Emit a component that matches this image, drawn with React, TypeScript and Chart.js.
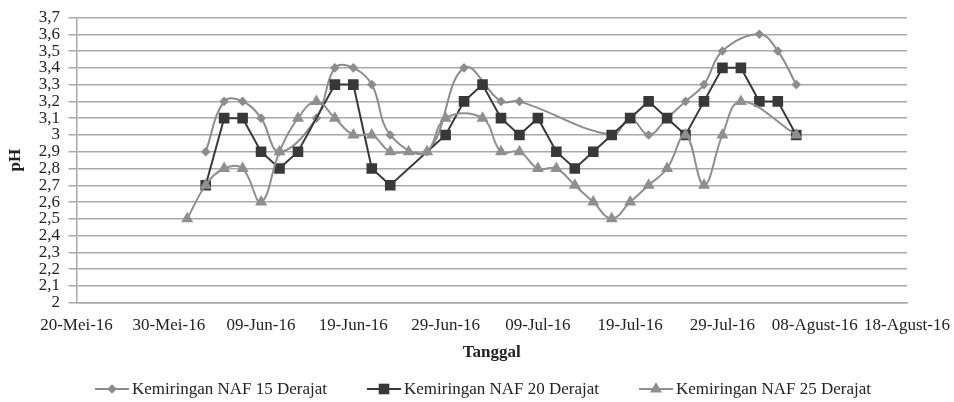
import React, { useEffect, useRef } from 'react';
import { Chart, registerables } from 'chart.js';

Chart.register(...registerables);

// ---- data ----
const seriesNames = [
  'Kemiringan NAF 15 Derajat',
  'Kemiringan NAF 20 Derajat',
  'Kemiringan NAF 25 Derajat',
];

const dates15 = [
  '2016-06-03', '2016-06-05', '2016-06-07', '2016-06-09', '2016-06-11', '2016-06-15',
  '2016-06-17', '2016-06-19', '2016-06-21', '2016-06-23', '2016-06-27', '2016-07-01',
  '2016-07-05', '2016-07-07', '2016-07-17', '2016-07-19', '2016-07-21', '2016-07-23',
  '2016-07-25', '2016-07-27', '2016-07-29', '2016-08-02', '2016-08-04', '2016-08-06',
];
const ph15 = [
  2.9, 3.2, 3.2, 3.1, 2.9, 3.1,
  3.4, 3.4, 3.3, 3.0, 2.9, 3.4,
  3.2, 3.2, 3.0, 3.1, 3.0, 3.1,
  3.2, 3.3, 3.5, 3.6, 3.5, 3.3,
];

const dates20 = [
  '2016-06-03', '2016-06-05', '2016-06-07', '2016-06-09', '2016-06-11', '2016-06-13',
  '2016-06-17', '2016-06-19', '2016-06-21', '2016-06-23', '2016-06-29', '2016-07-01',
  '2016-07-03', '2016-07-05', '2016-07-07', '2016-07-09', '2016-07-11', '2016-07-13',
  '2016-07-15', '2016-07-17', '2016-07-19', '2016-07-21', '2016-07-23', '2016-07-25',
  '2016-07-27', '2016-07-29', '2016-07-31', '2016-08-02', '2016-08-04', '2016-08-06',
];
const ph20 = [
  2.7, 3.1, 3.1, 2.9, 2.8, 2.9,
  3.3, 3.3, 2.8, 2.7, 3.0, 3.2,
  3.3, 3.1, 3.0, 3.1, 2.9, 2.8,
  2.9, 3.0, 3.1, 3.2, 3.1, 3.0,
  3.2, 3.4, 3.4, 3.2, 3.2, 3.0,
];

const dates25 = [
  '2016-06-01', '2016-06-03', '2016-06-05', '2016-06-07', '2016-06-09', '2016-06-11',
  '2016-06-13', '2016-06-15', '2016-06-17', '2016-06-19', '2016-06-21', '2016-06-23',
  '2016-06-25', '2016-06-27', '2016-06-29', '2016-07-03', '2016-07-05', '2016-07-07',
  '2016-07-09', '2016-07-11', '2016-07-13', '2016-07-15', '2016-07-17', '2016-07-19',
  '2016-07-21', '2016-07-23', '2016-07-25', '2016-07-27', '2016-07-29', '2016-07-31',
  '2016-08-06',
];
const ph25 = [
  2.5, 2.7, 2.8, 2.8, 2.6, 2.9,
  3.1, 3.2, 3.1, 3.0, 3.0, 2.9,
  2.9, 2.9, 3.1, 3.1, 2.9, 2.9,
  2.8, 2.8, 2.7, 2.6, 2.5, 2.6,
  2.7, 2.8, 3.0, 2.7, 3.0, 3.2,
  3.0,
];

const xStartDate = '2016-05-20';
const xTickLabels = [
  '20-Mei-16', '30-Mei-16', '09-Jun-16', '19-Jun-16', '29-Jun-16',
  '09-Jul-16', '19-Jul-16', '29-Jul-16', '08-Agust-16', '18-Agust-16',
];
const xStepDays = 10;

const yMin = 2;
const yMax = 3.7;
const yStep = 0.1;
const yTickLabels = [
  '2', '2,1', '2,2', '2,3', '2,4', '2,5', '2,6', '2,7', '2,8',
  '2,9', '3', '3,1', '3,2', '3,3', '3,4', '3,5', '3,6', '3,7',
];

// ---- helpers ----
const dayOf = (s: string) => {
  const [y, m, d] = s.split('-').map(Number);
  const [y0, m0, d0] = xStartDate.split('-').map(Number);
  return Math.round((Date.UTC(y, m - 1, d) - Date.UTC(y0, m0 - 1, d0)) / 86400000);
};
const toPoints = (dates: string[], vals: number[]) =>
  dates.map((d, i) => ({ x: dayOf(d), y: vals[i] }));

const FONT = "'Liberation Serif', 'Times New Roman', serif";
const TEXT = '#222222';
const GRID = '#a9a9a9';

const COLORS = ['#8c8c8c', '#383838', '#8f8f8f'];
const STYLES = ['rectRot', 'rect', 'triangle'];
const RADII = [4.8, 7.5, 7];

function drawMarker(ctx: CanvasRenderingContext2D, style: string, x: number, y: number, r: number) {
  ctx.beginPath();
  if (style === 'rectRot') {
    ctx.moveTo(x - r, y);
    ctx.lineTo(x, y - r);
    ctx.lineTo(x + r, y);
    ctx.lineTo(x, y + r);
  } else if (style === 'rect') {
    const s = Math.SQRT1_2 * r;
    ctx.rect(x - s, y - s, 2 * s, 2 * s);
  } else {
    const a = (2 * Math.PI) / 3;
    ctx.moveTo(x, y - r);
    ctx.lineTo(x + Math.sin(a) * r, y - Math.cos(a) * r);
    ctx.lineTo(x + Math.sin(2 * a) * r, y - Math.cos(2 * a) * r);
  }
  ctx.closePath();
  ctx.fill();
}

const legendPlugin = {
  id: 'bottomLegend',
  afterDraw(chart: any) {
    const ctx: CanvasRenderingContext2D = chart.ctx;
    ctx.save();
    ctx.font = `17px ${FONT}`;
    const lineW = 34;
    const gapText = 3;
    const gapItems = 40;
    const widths = seriesNames.map((n) => lineW + gapText + ctx.measureText(n).width);
    const total = widths.reduce((a, b) => a + b, 0) + gapItems * (seriesNames.length - 1);
    const centerX = 483;
    const y = 389;
    let x = centerX - total / 2;
    seriesNames.forEach((name, i) => {
      ctx.strokeStyle = COLORS[i];
      ctx.fillStyle = COLORS[i];
      ctx.lineWidth = 2;
      ctx.beginPath();
      ctx.moveTo(x, y);
      ctx.lineTo(x + lineW, y);
      ctx.stroke();
      drawMarker(ctx, STYLES[i], x + lineW / 2, y, RADII[i]);
      ctx.fillStyle = TEXT;
      ctx.textBaseline = 'middle';
      ctx.textAlign = 'left';
      ctx.fillText(name, x + lineW + gapText, y + 1);
      x += widths[i] + gapItems;
    });
    ctx.restore();
  },
};

export default function App() {
  const canvasRef = useRef<HTMLCanvasElement | null>(null);

  useEffect(() => {
    if (!canvasRef.current) return;
    const allDates = [dates15, dates20, dates25];
    const allVals = [ph15, ph20, ph25];
    const tensions = [0.4, 0, 0.4];
    const orders = [3, 2, 1];

    const chart = new Chart(canvasRef.current, {
      type: 'line',
      data: {
        datasets: seriesNames.map((name, i) => ({
          label: name,
          data: toPoints(allDates[i], allVals[i]),
          borderColor: COLORS[i],
          backgroundColor: COLORS[i],
          borderWidth: 2,
          pointStyle: STYLES[i] as any,
          pointRadius: RADII[i],
          pointBorderWidth: 0,
          pointBackgroundColor: COLORS[i],
          pointBorderColor: COLORS[i],
          tension: tensions[i],
          fill: false,
          order: orders[i],
        })),
      },
      options: {
        responsive: true,
        maintainAspectRatio: false,
        animation: false,
        events: [],
        layout: { padding: { left: 0, right: 47, top: 17.5, bottom: 37.3 } },
        plugins: {
          legend: { display: false },
          tooltip: { enabled: false },
        },
        scales: {
          x: {
            type: 'linear',
            min: 0,
            max: (xTickLabels.length - 1) * xStepDays,
            ticks: {
              stepSize: xStepDays,
              autoSkip: false,
              maxRotation: 0,
              padding: 13,
              color: TEXT,
              font: { family: FONT, size: 17 },
              callback: (v: any) => xTickLabels[Math.round(Number(v) / xStepDays)],
            },
            grid: { display: false, drawTicks: false },
            border: { display: true, color: GRID, width: 1.5 },
            title: {
              display: true,
              text: 'Tanggal',
              color: TEXT,
              font: { family: FONT, size: 17, weight: 'bold' },
              padding: { top: 0, bottom: 1.5 },
            },
            afterFit: (s: any) => {
              s.height = 62;
              s.paddingLeft = 0;
              s.paddingRight = 0;
            },
          },
          y: {
            type: 'linear',
            min: yMin,
            max: yMax,
            ticks: {
              stepSize: yStep,
              autoSkip: false,
              padding: 8.5,
              color: TEXT,
              font: { family: FONT, size: 17 },
              callback: (v: any) => yTickLabels[Math.round((Number(v) - yMin) / yStep)],
            },
            grid: { color: GRID, lineWidth: 1.5, drawTicks: true, tickLength: 8 },
            border: { display: true, color: GRID, width: 1.5 },
            title: {
              display: true,
              text: 'pH',
              color: TEXT,
              font: { family: FONT, size: 17, weight: 'bold' },
              padding: { top: 5, bottom: 0 },
            },
            afterFit: (s: any) => {
              s.width = 76.5;
              s.paddingTop = 0;
              s.paddingBottom = 0;
            },
          },
        },
      },
      plugins: [legendPlugin],
    });
    return () => chart.destroy();
  }, []);

  return (
    <div style={{ position: 'absolute', left: 0, top: 0, width: 954, height: 402, background: '#ffffff' }}>
      <canvas ref={canvasRef} />
    </div>
  );
}
